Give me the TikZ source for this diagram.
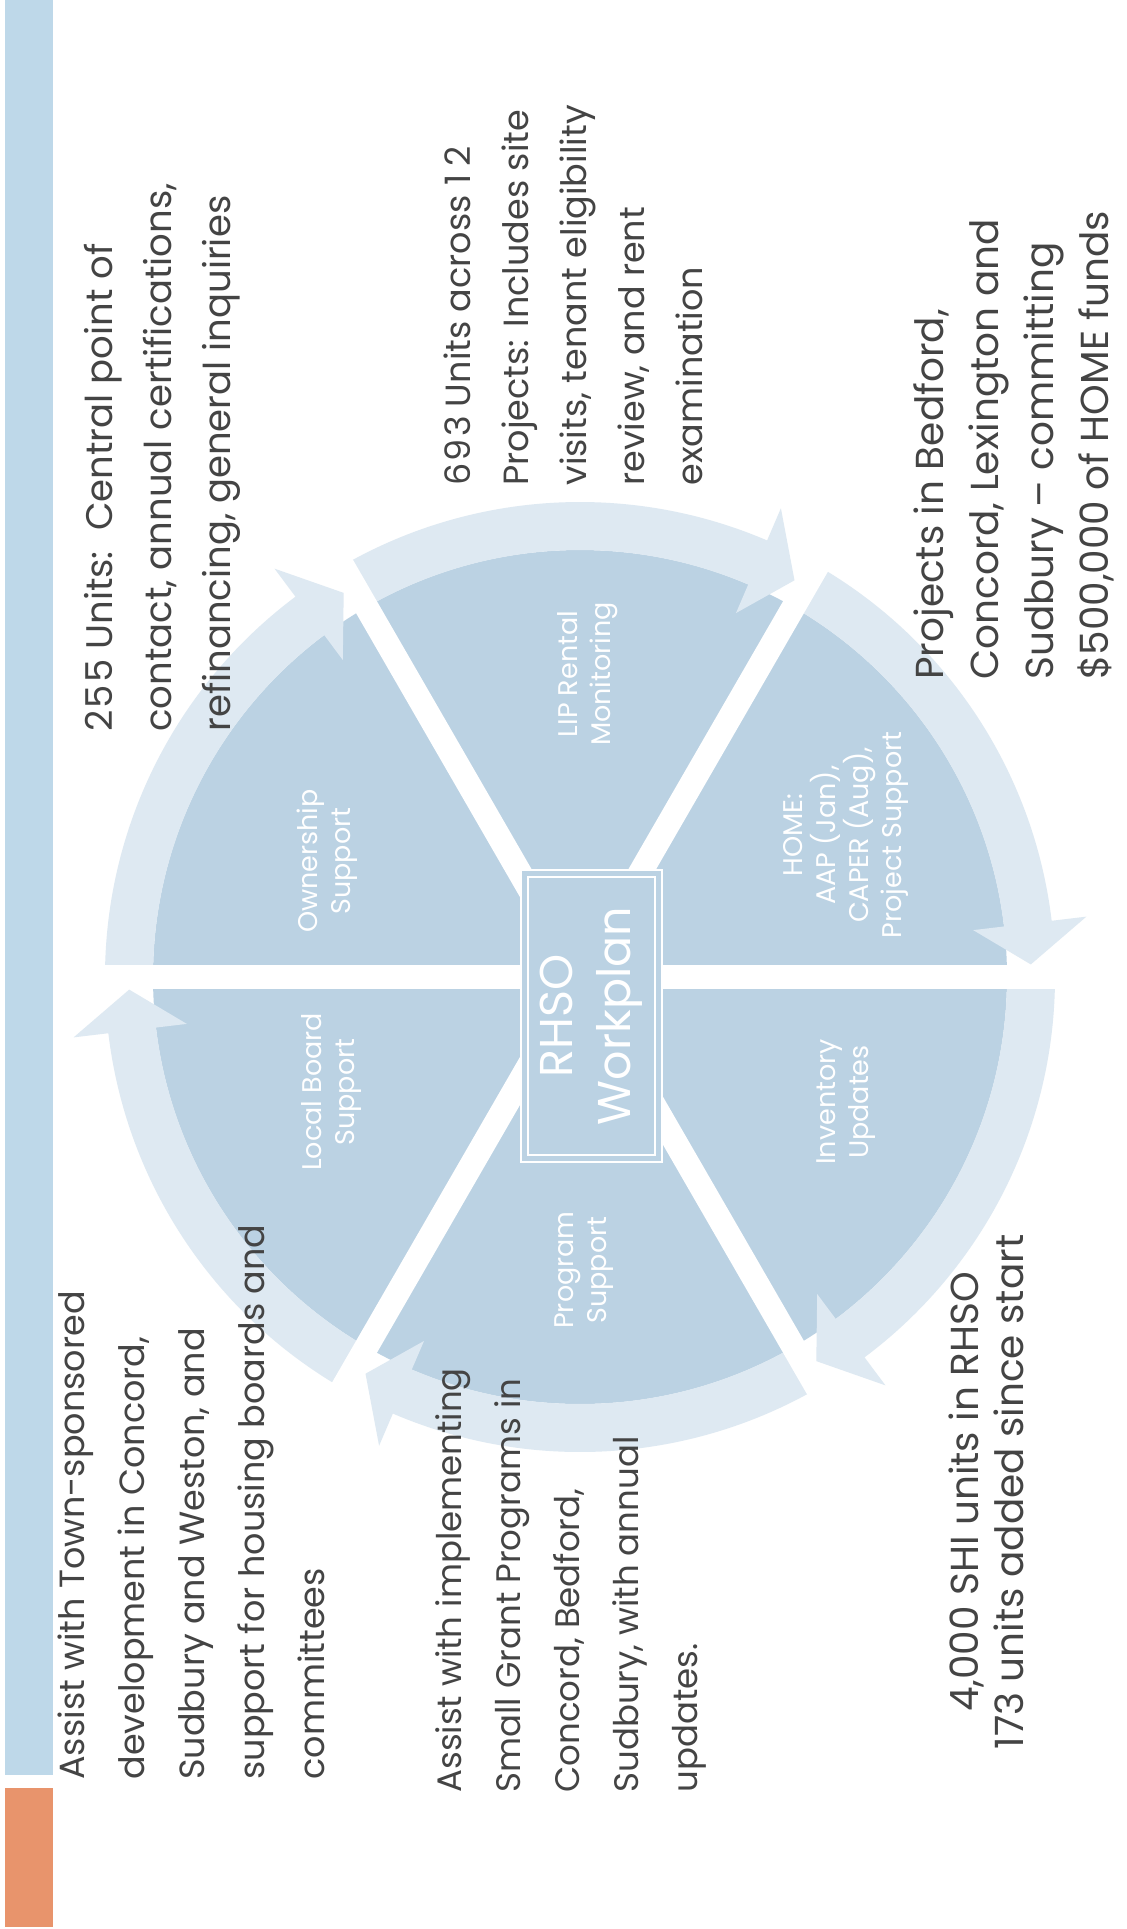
\documentclass[tikz,border=0pt]{standalone}
\usepackage{fontspec}
\setmainfont{Poppins}
\usetikzlibrary{calc}

\definecolor{slice}{HTML}{BBD2E3}
\definecolor{band}{HTML}{DEE9F2}
\definecolor{barblue}{HTML}{BED8E9}
\definecolor{barorange}{HTML}{E8946C}
\definecolor{ink}{HTML}{444444}

\tikzset{
  body/.style={rotate=90, anchor=north west, align=left, inner sep=0pt,
    text=ink, font=\fontsize{17.5}{30}\selectfont},
  sectorlabel/.style={rotate=90, align=center, inner sep=0pt, text=white,
    font=\fontsize{13.5}{16.5}\selectfont},
  gapline/.style={white, line width=12pt},
}

% one curved arrow of the cycle: tail at angle #1, head ending just before angle #2
\newcommand\cyclearrow[2]{%
  \pgfmathsetmacro\headback{#2+6.8}%
  \pgfmathsetmacro\headtip{#2+1.6}%
  \fill[band] (#1:475) arc[start angle=#1, end angle=\headback, radius=475]
    -- (\headback:510) -- (\headtip:451) -- (\headback:396) -- (\headback:427)
    arc[start angle=\headback, end angle=#1, radius=427] -- cycle;}
% slightly wider figures
\newcommand\dg{\kern1.1pt}

\begin{document}
\begin{tikzpicture}[x=0.5pt, y=0.5pt]
\useasboundingbox (0,0) rectangle (1127,-1929);
\fill[white] (0,0) rectangle (1127,-1929);

% title bar
\fill[barblue] (5,0) rectangle (53,-1775);
\fill[barorange] (5,-1788) rectangle (53,-1927);

% the cycle
\begin{scope}[shift={(580,-977)}]
  \fill[slice] (0,0) circle[radius=427];
  \cyclearrow{240}{180}
  \cyclearrow{180}{120}
  \cyclearrow{120}{60}
  \cyclearrow{60}{0}
  \cyclearrow{360}{300}
  \cyclearrow{300}{240}
  \foreach \a in {0,60,120} {
    \draw[gapline] (\a:515) -- (\a+180:515);
  }
\end{scope}

% centre box
\node (hub) [rotate=90, draw=white, double=slice, double distance=2.5pt,
  line width=0.9pt, fill=slice, minimum width=142.7pt, minimum height=67.2pt,
  inner sep=0pt, align=center, text=white,
  font=\fontsize{23}{29}\selectfont] at (591.5,-1016) {RHSO\\Workplan};

% segment labels
\node (own)  [sectorlabel] at (327,-861)  {Ownership\\Support};
\node (lip)  [sectorlabel] at (588,-674)  {LIP Rental\\Monitoring};
\node (home) [sectorlabel] at (846,-835)  {HOME:\\AAP (Jan),\\CAPER (Aug),\\Project Support};
\node (inv)  [sectorlabel] at (846,-1102) {Inventory\\Updates};
\node (prog) [sectorlabel] at (584,-1270) {Program\\Support};
\node (lbs)  [sectorlabel] at (332,-1092) {Local Board\\Support};

% notes around the cycle
\node (noteA) [body] at (57,-1780) {Assist with Town-sponsored\\development in Concord,\\Sudbury and Weston, and\\support for housing boards and\\committees};
\node (noteB) [body, font=\fontsize{17}{29.5}\selectfont] at (435,-1793) {Assist with implementing\\Small Grant Programs in\\Concord, Bedford,\\Sudbury, with annual\\updates.};
\node (noteC) [body, anchor=north, align=center, font=\fontsize{19.5}{22.5}\selectfont] at (948,-1492) {4,000 SHI units in RHSO\\173 units added since start};
\node (noteD) [body, font=\fontsize{18.5}{29.5}\selectfont] at (84,-732) {2\dg5\dg5 Units:\hspace{0.55em}Central point of\\contact, annual certifications,\\refinancing, general inquiries};
\node (noteE) [body, font=\fontsize{17.5}{29}\selectfont] at (443,-486) {6\dg9\dg3 Units across 1\kern4pt2\\Projects: Includes site\\visits, tenant eligibility\\review, and rent\\examination};
\node (noteF) [body, font=\fontsize{19.5}{27.5}\selectfont] at (913,-680) {Projects in Bedford,\\Concord, Lexington and\\Sudbury – committing\\\$500,000 of HOME funds};
\end{tikzpicture}
\end{document}
